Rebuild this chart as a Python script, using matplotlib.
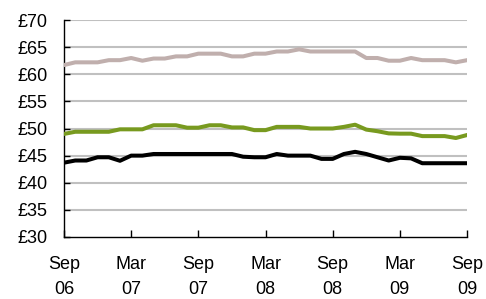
import numpy as np
import matplotlib
matplotlib.use("Agg")
import matplotlib.pyplot as plt

plt.rcParams['font.family'] = ['Liberation Sans', 'DejaVu Sans']

# monthly values, Sep 06 .. Sep 09
months = np.arange(37)
grey = [61.7, 62.2, 62.2, 62.2, 62.6, 62.6, 63.0, 62.5, 62.9, 62.9,
        63.3, 63.3, 63.8, 63.8, 63.8, 63.3, 63.3, 63.8, 63.8, 64.2,
        64.2, 64.6, 64.2, 64.2, 64.2, 64.2, 64.2, 63.0, 63.0, 62.5,
        62.5, 63.0, 62.6, 62.6, 62.6, 62.2, 62.6]
green = [49.0, 49.4, 49.4, 49.4, 49.4, 49.85, 49.85, 49.85, 50.6, 50.6,
         50.6, 50.15, 50.15, 50.6, 50.6, 50.2, 50.2, 49.7, 49.7, 50.3,
         50.3, 50.3, 50.0, 50.0, 50.0, 50.3, 50.7, 49.8, 49.5, 49.1,
         49.05, 49.05, 48.6, 48.6, 48.6, 48.25, 48.8]
black = [43.7, 44.1, 44.1, 44.7, 44.7, 44.05, 45.0, 45.0, 45.3, 45.3,
         45.3, 45.3, 45.3, 45.3, 45.3, 45.3, 44.8, 44.7, 44.7, 45.3,
         45.0, 45.0, 45.0, 44.4, 44.4, 45.3, 45.7, 45.3, 44.7, 44.1,
         44.6, 44.5, 43.6, 43.6, 43.6, 43.6, 43.6]

tick_pos = [0, 6, 12, 18, 24, 30, 36]
tick_labels = ['Sep\n06', 'Mar\n07', 'Sep\n07', 'Mar\n08', 'Sep\n08', 'Mar\n09', 'Sep\n09']
y_ticks = list(range(30, 75, 5))

fig = plt.figure(figsize=(4.86, 2.99), dpi=100)
ax = fig.add_axes([0.1317, 0.2074, 0.8293, 0.7256])

for v in y_ticks[1:]:
    ax.axhline(v, color='#c0c0c0', lw=1.5, zorder=1)

ax.plot(months, grey, color='#c0afad', lw=2.9, zorder=3)
ax.plot(months, green, color='#789a1f', lw=2.9, zorder=3)
ax.plot(months, black, color='#000000', lw=2.9, zorder=3)

ax.set_xlim(0, 36)
ax.set_ylim(30, 70)
ax.set_yticks(y_ticks)
ax.set_yticklabels(['£%d' % v for v in y_ticks])
ax.set_xticks(tick_pos)
ax.set_xticklabels(tick_labels, linespacing=1.6)

for s in ['top', 'right']:
    ax.spines[s].set_visible(False)
for s in ['left', 'bottom']:
    ax.spines[s].set_linewidth(1.0)
    ax.spines[s].set_color('#000000')

ax.tick_params(axis='x', direction='in', length=5, width=1, pad=14, labelsize=13)
ax.tick_params(axis='y', direction='in', length=4, width=1, pad=12, labelsize=13)

fig.savefig('out.png', dpi=100)
